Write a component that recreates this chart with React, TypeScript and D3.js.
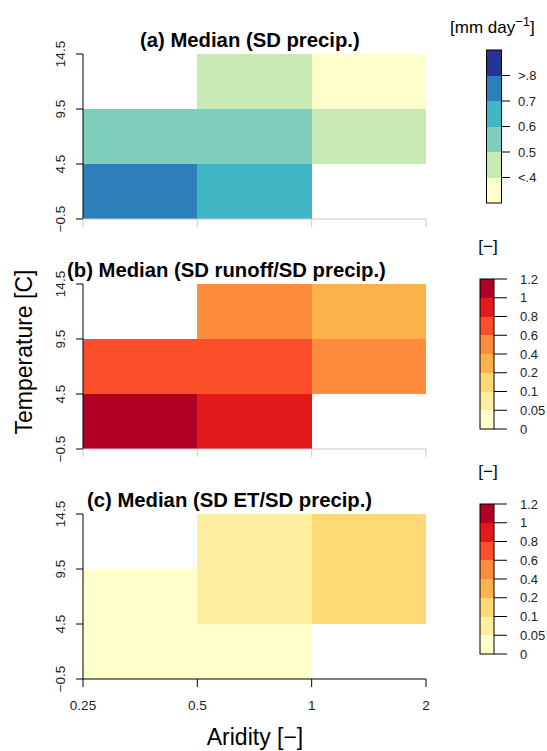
import React from 'react';
import * as d3 from 'd3';

// bin edges
const aridityBreaks = [0.25, 0.5, 1, 2];
const tempBreaks = [-0.5, 4.5, 9.5, 14.5];
const aridityLabels = ['0.25', '0.5', '1', '2'];
const tempLabels = ['\u22120.5', '4.5', '9.5', '14.5'];

// rows: temperature bins low -> high, cols: aridity bins low -> high
const sdPrecip = [
  [0.74, 0.65, null],
  [0.55, 0.54, 0.45],
  [null, 0.46, 0.38],
];
const sdRunoffRatio = [
  [1.1, 0.9, null],
  [0.7, 0.68, 0.5],
  [null, 0.45, 0.3],
];
const sdEtRatio = [
  [0.03, 0.04, null],
  [0.04, 0.08, 0.15],
  [null, 0.07, 0.14],
];

const precipBreaks = [0.4, 0.5, 0.6, 0.7, 0.8];
const precipLegendLabels = ['<.4', '0.5', '0.6', '0.7', '>.8'];
const precipColors = ['#ffffcc', '#c7e9b4', '#7fcdbb', '#41b6c4', '#2c7fb8', '#253494'];

const ratioBreaks = [0.05, 0.1, 0.2, 0.4, 0.6, 0.8, 1];
const ratioLegendLabels = ['0', '0.05', '0.1', '0.2', '0.4', '0.6', '0.8', '1', '1.2'];
const ratioColors = ['#ffffcc', '#ffeda0', '#fed976', '#feb24c', '#fd8d3c', '#fc4e2a', '#e31a1c', '#b10026'];

const font = '"Liberation Sans", Arial, Helvetica, sans-serif';

const x = d3.scaleLog().domain([0.25, 2]).range([83, 426]);

const panels = [
  {title: '(a) Median (SD precip.)', titleX: 140, top: 54, data: sdPrecip,
   color: d3.scaleThreshold<number, string>().domain(precipBreaks).range(precipColors)},
  {title: '(b) Median (SD runoff/SD precip.)', titleX: 67, top: 284, data: sdRunoffRatio,
   color: d3.scaleThreshold<number, string>().domain(ratioBreaks).range(ratioColors)},
  {title: '(c) Median (SD ET/SD precip.)', titleX: 87, top: 514, data: sdEtRatio,
   color: d3.scaleThreshold<number, string>().domain(ratioBreaks).range(ratioColors)},
];

const panelHeight = 165;

const Panel = ({p, last}) => {
  const y = d3.scaleLinear().domain([-0.5, 14.5]).range([p.top + panelHeight, p.top]);
  const bottom = p.top + panelHeight;
  const axisColor = last ? '#000' : '#c8c8c8';
  return (
    <g>
      <text x={p.titleX} y={p.top - 7} fontFamily={font} fontWeight='bold' fontSize={20.3}>{p.title}</text>
      {p.data.map((row, i) => row.map((v, j) => v == null ? null : (
        <rect key={`${i}-${j}`}
          x={x(aridityBreaks[j])} width={x(aridityBreaks[j + 1]) - x(aridityBreaks[j])}
          y={y(tempBreaks[i + 1])} height={y(tempBreaks[i]) - y(tempBreaks[i + 1])}
          fill={p.color(v)} shapeRendering='crispEdges'/>
      )))}
      {/* y axis */}
      <line x1={83} x2={83} y1={y(-0.5)} y2={y(14.5)} stroke='#000'/>
      {tempBreaks.map((t, i) => (
        <g key={t}>
          <line x1={76} x2={83} y1={y(t)} y2={y(t)} stroke='#000'/>
          <text transform={`translate(65,${y(t)}) rotate(-90)`} textAnchor='middle'
            fontFamily={font} fontSize={13.5} fill='#222'>{tempLabels[i]}</text>
        </g>
      ))}
      {/* x axis */}
      <line x1={x(0.25)} x2={x(2)} y1={bottom} y2={bottom} stroke={axisColor}/>
      {aridityBreaks.map((a, i) => (
        <g key={a}>
          <line x1={x(a)} x2={x(a)} y1={bottom} y2={bottom + 8} stroke={axisColor}/>
          {last && <text x={x(a)} y={bottom + 31} textAnchor='middle' fontFamily={font} fontSize={13.5} fill='#222'>{aridityLabels[i]}</text>}
        </g>
      ))}
    </g>
  );
};

const PrecipLegend = () => {
  const ly = d3.scaleLinear().domain([0, precipColors.length]).range([203, 50]);
  return (
    <g>
      <text x={450} y={33} fontFamily={font} fontSize={17}>
        [mm day<tspan dy={-7} fontSize={13}>{'\u22121'}</tspan><tspan dy={7}>]</tspan>
      </text>
      {precipColors.map((c, i) => (
        <rect key={c} x={486.5} width={15} y={ly(i + 1)} height={ly(i) - ly(i + 1)} fill={c} shapeRendering='crispEdges'/>
      ))}
      <rect x={486.5} width={15} y={50} height={153} fill='none' stroke='#000'/>
      {precipLegendLabels.map((l, i) => (
        <g key={l}>
          <line x1={501.5} x2={510} y1={ly(i + 1)} y2={ly(i + 1)} stroke='#000'/>
          <text x={518} y={ly(i + 1)} dy='0.35em' fontFamily={font} fontSize={13} fill='#222'>{l}</text>
        </g>
      ))}
    </g>
  );
};

const RatioLegend = ({top}) => {
  const ly = d3.scaleLinear().domain([0, ratioColors.length]).range([top + 150, top]);
  return (
    <g>
      <text x={488} y={top - 27} textAnchor='middle' fontFamily={font} fontSize={17}>[{'\u2212'}]</text>
      {ratioColors.map((c, i) => (
        <rect key={c} x={480} width={14} y={ly(i + 1)} height={ly(i) - ly(i + 1)} fill={c} shapeRendering='crispEdges'/>
      ))}
      <rect x={480} width={14} y={top} height={150} fill='none' stroke='#000'/>
      {ratioLegendLabels.map((l, i) => (
        <g key={l}>
          <line x1={494} x2={507} y1={ly(i)} y2={ly(i)} stroke='#000'/>
          <text x={520} y={ly(i)} dy='0.35em' fontFamily={font} fontSize={13} fill='#222'>{l}</text>
        </g>
      ))}
    </g>
  );
};

export default function App() {
  return (
    <svg width={547} height={751} style={{position: 'absolute', left: 0, top: 0, background: '#fff'}}>
      {panels.map((p, i) => <Panel key={p.title} p={p} last={i === panels.length - 1}/>)}
      <PrecipLegend/>
      <RatioLegend top={279}/>
      <RatioLegend top={504}/>
      <text transform='translate(32,352) rotate(-90)' textAnchor='middle' fontFamily={font} fontSize={23}>Temperature [C]</text>
      <text x={255} y={745} textAnchor='middle' fontFamily={font} fontSize={23}>Aridity [{'\u2212'}]</text>
    </svg>
  );
}
